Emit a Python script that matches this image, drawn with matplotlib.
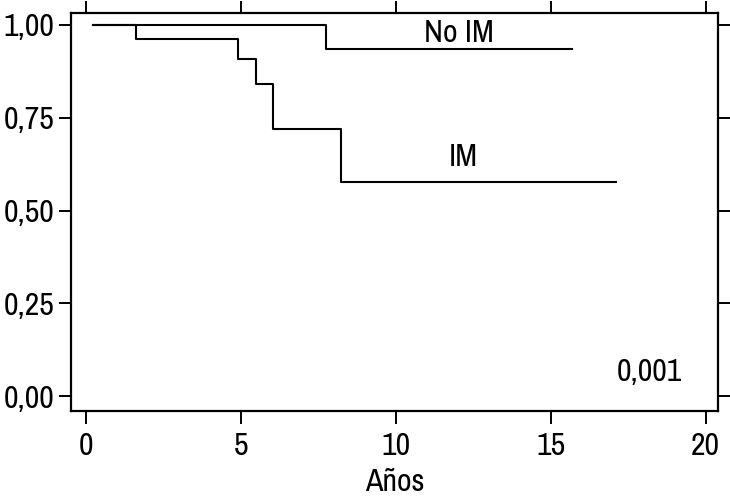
import matplotlib
matplotlib.use("Agg")
import matplotlib.pyplot as plt
from matplotlib.ticker import FuncFormatter

plt.rcParams["font.family"] = ["Archivo Narrow", "DejaVu Sans"]

# Kaplan-Meier steps (years, survival)
no_im_t = [0.23, 7.74, 15.69]
no_im_s = [1.00, 0.934, 0.934]
im_t = [0.23, 1.62, 4.92, 5.49, 6.05, 8.24, 17.11]
im_s = [1.00, 0.961, 0.908, 0.842, 0.720, 0.576, 0.576]

x_ticks = [0, 5, 10, 15, 20]
y_ticks = [0.00, 0.25, 0.50, 0.75, 1.00]
p_value = "0,001"

fig = plt.figure(figsize=(7.3, 5.0), dpi=100)
ax = fig.add_axes([0.0973, 0.178, 0.8863, 0.796])

ax.step(no_im_t, no_im_s, where="post", color="black", linewidth=1.5)
ax.step(im_t, im_s, where="post", color="black", linewidth=1.5)

ax.text(12.05, 0.978, "No IM", ha="center", va="center", fontsize=23)
ax.text(12.18, 0.644, "IM", ha="center", va="center", fontsize=23)
ax.text(18.2, 0.065, p_value, ha="center", va="center", fontsize=23)

ax.set_xlim(-0.48, 20.4)
ax.set_ylim(-0.04, 1.032)
ax.set_xticks(x_ticks)
ax.set_yticks(y_ticks)
ax.yaxis.set_major_formatter(FuncFormatter(lambda v, p: f"{v:.2f}".replace(".", ",")))
ax.tick_params(axis="both", direction="out", length=9, width=1.4, labelsize=23,
               top=True, right=True, labeltop=False, labelright=False)
ax.tick_params(axis="x", pad=6)
ax.tick_params(axis="y", pad=3)
for s in ax.spines.values():
    s.set_linewidth(1.6)

ax.set_xlabel("Años", fontsize=23, labelpad=6)

fig.savefig("out.png", dpi=100)
